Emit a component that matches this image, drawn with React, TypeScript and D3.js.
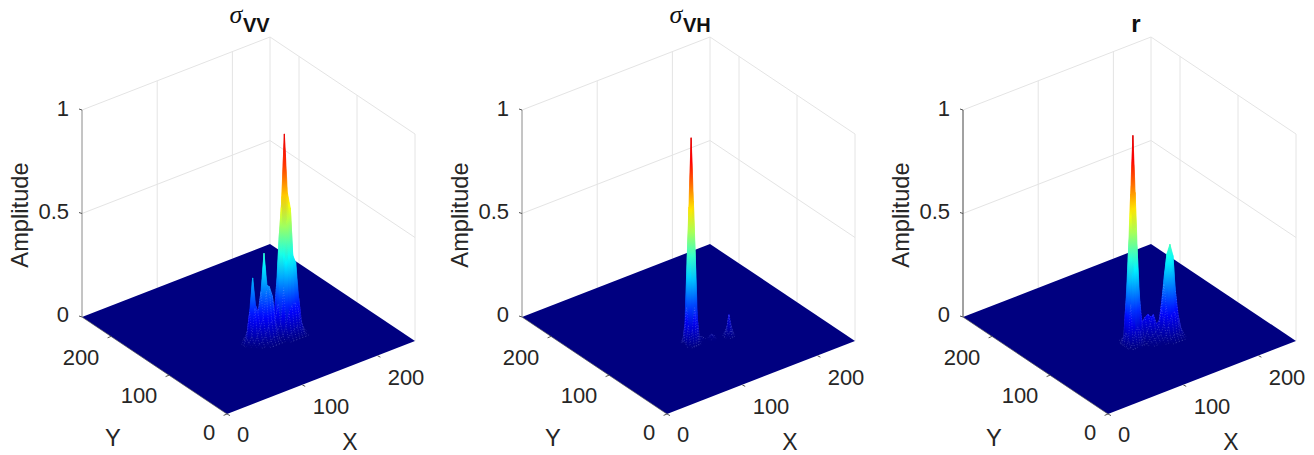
import * as d3 from 'd3';

const WIDTH = 1314;
const HEIGHT = 455;

const xTicks = [0, 100, 200];
const yTicks = [0, 100, 200];
const zTicks = [0, 0.5, 1];
const axisMax = 250;

// amplitude x 100. rows go with *Ys, columns with *Xs
const vvXs = [100, 104, 108, 112, 116, 120, 124, 128, 132, 136, 140, 144, 148, 152, 156, 160, 164, 168, 172];
const vvYs = [77, 81, 85, 89, 93, 97, 101, 105, 109, 113];
const vvZ = [
  [0, 0, 0, 0, 0, 0, 0, 0, 0, 0, 0, 0, 0, 0, 0, 0, 0, 0, 0],
  [0, 0, 0, 0, 0, 0, 0, 0, 0, 0, 0, 1, 3, 4, 5, 4, 2, 0, 0],
  [0, 0, 0, 0, 0, 1, 2, 3, 3, 1, 2, 6, 12, 15, 16, 13, 6, 1, 0],
  [0, 0, 0, 1, 2, 4, 8, 10, 10, 4, 7, 24, 56, 46, 38, 34, 16, 3, 0],
  [0, 0, 1, 4, 8, 12, 24, 26, 21, 9, 16, 62, 97, 68, 60, 31, 11, 2, 0],
  [0, 1, 4, 17, 14, 24, 42, 26, 14, 6, 9, 46, 66, 46, 34, 16, 5, 1, 0],
  [0, 3, 15, 31, 17, 13, 22, 12, 6, 2, 4, 24, 36, 26, 14, 6, 2, 0, 0],
  [0, 1, 5, 15, 7, 4, 7, 3, 1, 0, 1, 8, 12, 9, 5, 1, 0, 0, 0],
  [0, 0, 0, 2, 1, 0, 1, 0, 0, 0, 0, 1, 2, 1, 0, 0, 0, 0, 0],
  [0, 0, 0, 0, 0, 0, 0, 0, 0, 0, 0, 0, 0, 0, 0, 0, 0, 0, 0],
];

const vhXs = [101, 104, 107, 110, 113, 116, 119, 127, 130, 133, 136, 139, 145, 148, 151, 154, 157];
const vhYs = [83, 86, 89, 92, 95, 98, 101, 104, 107, 110, 113];
const vhZ = [
  [0, 0, 0, 0, 0, 0, 0, 0, 0, 0, 0, 0, 0, 0, 0, 0, 0],
  [0, 0, 0, 0, 0, 0, 0, 0, 0, 0, 0, 0, 0, 1, 3, 1, 0],
  [0, 0, 0, 0, 0, 0, 0, 0, 0, 0, 0, 0, 0, 3, 10, 4, 0],
  [0, 0, 0, 0, 0, 0, 0, 0, 0, 1, 0, 0, 0, 1, 4, 2, 0],
  [0, 1, 8, 18, 9, 1, 0, 0, 1, 2, 1, 0, 0, 0, 1, 0, 0],
  [1, 10, 42, 66, 44, 11, 1, 0, 0, 1, 0, 0, 0, 0, 0, 0, 0],
  [2, 18, 66, 99, 68, 20, 2, 0, 0, 0, 0, 0, 0, 0, 0, 0, 0],
  [1, 9, 40, 64, 42, 10, 1, 0, 0, 0, 0, 0, 0, 0, 0, 0, 0],
  [0, 1, 8, 18, 9, 1, 0, 0, 0, 0, 0, 0, 0, 0, 0, 0, 0],
  [0, 0, 1, 3, 1, 0, 0, 0, 0, 0, 0, 0, 0, 0, 0, 0, 0],
  [0, 0, 0, 0, 0, 0, 0, 0, 0, 0, 0, 0, 0, 0, 0, 0, 0],
];

const rXs = [99, 102, 105, 108, 111, 114, 117, 120, 124, 128, 132, 136, 140, 143, 147, 151, 155, 159, 163];
const rYs = [73, 77, 81, 85, 89, 93, 97, 101, 105, 109, 113, 117];
const rZ = [
  [0, 0, 0, 0, 0, 0, 0, 0, 0, 0, 0, 0, 0, 0, 0, 0, 0, 0, 0],
  [0, 0, 0, 0, 0, 0, 0, 0, 0, 0, 0, 0, 0, 1, 3, 3, 2, 1, 0],
  [0, 0, 0, 0, 0, 0, 0, 0, 0, 0, 1, 1, 3, 7, 12, 13, 9, 4, 1],
  [0, 0, 0, 0, 0, 0, 0, 0, 1, 2, 3, 3, 8, 16, 30, 32, 22, 9, 2],
  [0, 0, 0, 0, 1, 0, 0, 0, 2, 3, 4, 6, 14, 26, 40, 44, 38, 14, 4],
  [0, 0, 2, 7, 9, 7, 2, 1, 5, 8, 12, 7, 8, 16, 30, 32, 22, 9, 2],
  [0, 3, 20, 42, 56, 42, 20, 9, 11, 12, 10, 4, 3, 7, 12, 13, 9, 4, 1],
  [0, 6, 30, 72, 100, 72, 30, 12, 8, 6, 4, 1, 1, 1, 3, 3, 2, 1, 0],
  [0, 3, 20, 42, 56, 42, 20, 3, 2, 1, 0, 0, 0, 0, 0, 0, 0, 0, 0],
  [0, 0, 2, 7, 9, 7, 2, 0, 0, 0, 0, 0, 0, 0, 0, 0, 0, 0, 0],
  [0, 0, 0, 1, 1, 1, 0, 0, 0, 0, 0, 0, 0, 0, 0, 0, 0, 0, 0],
  [0, 0, 0, 0, 0, 0, 0, 0, 0, 0, 0, 0, 0, 0, 0, 0, 0, 0, 0],
];

const panels = [
  { id: 'vv', offset: 0, xs: vvXs, ys: vvYs, z: vvZ, sigma: true, title: 'VV', axisColor: '#8a8a8a' },
  { id: 'vh', offset: 440, xs: vhXs, ys: vhYs, z: vhZ, sigma: true, title: 'VH', axisColor: '#8a8a8a' },
  { id: 'r', offset: 881, xs: rXs, ys: rYs, z: rZ, sigma: false, title: 'r', axisColor: '#444444' },
];

// oblique projection of the MATLAB view, corner (0,0,0) sits at origin
const origin = { sx: 227, sy: 414 };
const xToSx = d3.scaleLinear().domain([0, axisMax]).range([0, 188]);
const xToSy = d3.scaleLinear().domain([0, axisMax]).range([0, -73]);
const yToSx = d3.scaleLinear().domain([0, axisMax]).range([0, -145]);
const yToSy = d3.scaleLinear().domain([0, axisMax]).range([0, -97]);
const zToSy = d3.scaleLinear().domain([0, 1]).range([0, -207]);

const project = (x: number, y: number, z: number): [number, number] => [
  origin.sx + xToSx(x) + yToSx(y),
  origin.sy + xToSy(x) + yToSy(y) + zToSy(z),
];

const jet = d3
  .scaleLinear<string>()
  .domain([0, 0.125, 0.375, 0.625, 0.875, 1])
  .range(['#000080', '#0000ff', '#00ffff', '#ffff00', '#ff0000', '#e00000'])
  .interpolate(d3.interpolateRgb);

const line = d3.line();
const closed = (pts: [number, number][]) => line(pts) + 'Z';

function buildCells(p: (typeof panels)[number]) {
  const cells: any[] = [];
  for (let j = 0; j < p.ys.length - 1; j++) {
    for (let i = 0; i < p.xs.length - 1; i++) {
      const corners = [
        [p.xs[i], p.ys[j], p.z[j][i] / 100],
        [p.xs[i + 1], p.ys[j], p.z[j][i + 1] / 100],
        [p.xs[i + 1], p.ys[j + 1], p.z[j + 1][i + 1] / 100],
        [p.xs[i], p.ys[j + 1], p.z[j + 1][i] / 100],
      ];
      const zs = corners.map((c) => c[2]);
      const zMax = d3.max(zs) as number;
      if (zMax <= 0) continue;
      const zMin = d3.min(zs) as number;
      const lo = corners[zs.indexOf(zMin)];
      const hi = corners[zs.indexOf(zMax)];
      cells.push({
        key: `${p.id}-${i}-${j}`,
        d: closed(corners.map((c) => project(c[0], c[1], c[2]))),
        from: project(lo[0], lo[1], lo[2]),
        to: project(hi[0], hi[1], hi[2]),
        zMin,
        zMax,
        depth: project((p.xs[i] + p.xs[i + 1]) / 2, (p.ys[j] + p.ys[j + 1]) / 2, 0)[1],
      });
    }
  }
  return cells.sort((a, b) => a.depth - b.depth);
}

const textColor = '#262626';
const gridColor = '#e4e4e4';
const sans = "'Liberation Sans', Arial, sans-serif";

function Panel({ p }: { p: (typeof panels)[number] }) {
  const cells = buildCells(p);
  const stops = d3.range(0, 1.01, 0.2);
  const corner = (x: number, y: number, z: number) => project(x, y, z);
  const wall = (z: number) =>
    line([corner(0, axisMax, z), corner(axisMax, axisMax, z), corner(axisMax, 0, z)]) as string;
  return (
    <g transform={`translate(${p.offset},0)`}>
      <defs>
        {cells.map((c) => (
          <linearGradient
            key={c.key}
            id={`g-${c.key}`}
            gradientUnits="userSpaceOnUse"
            x1={c.from[0]}
            y1={c.from[1]}
            x2={c.to[0]}
            y2={c.to[1] + 0.01}
          >
            {stops.map((t) => (
              <stop key={t} offset={t} stopColor={jet(c.zMin + t * (c.zMax - c.zMin))} />
            ))}
          </linearGradient>
        ))}
      </defs>

      {/* back walls */}
      <g fill="none" stroke={gridColor} strokeWidth={1}>
        {zTicks.slice(1).map((z) => (
          <path key={z} d={wall(z)} />
        ))}
        {xTicks.slice(1).map((x) => (
          <path key={x} d={line([corner(x, axisMax, 0), corner(x, axisMax, 1)]) as string} />
        ))}
        {yTicks.slice(1).map((y) => (
          <path key={y} d={line([corner(axisMax, y, 0), corner(axisMax, y, 1)]) as string} />
        ))}
        <path d={line([corner(axisMax, 0, 0), corner(axisMax, 0, 1)]) as string} />
        <path d={line([corner(axisMax, axisMax, 0), corner(axisMax, axisMax, 1)]) as string} />
      </g>

      {/* z axis */}
      <path d={line([corner(0, axisMax, 0), corner(0, axisMax, 1)]) as string} stroke={p.axisColor} fill="none" />
      {zTicks.map((z) => {
        const [sx, sy] = corner(0, axisMax, z);
        return <path key={z} d={`M${sx},${sy}l-3,-1`} stroke="#555" fill="none" />;
      })}

      {/* floor */}
      <path
        d={closed([corner(0, 0, 0), corner(axisMax, 0, 0), corner(axisMax, axisMax, 0), corner(0, axisMax, 0)])}
        fill="#000080"
      />
      <path d={line([corner(0, axisMax, 0), corner(0, 0, 0)]) as string} stroke="#555" strokeWidth={0.7} fill="none" />
      {xTicks.map((x) => {
        const [sx, sy] = corner(x, 0, 0);
        return <path key={x} d={`M${sx},${sy}l3,1.6`} stroke="#555" fill="none" />;
      })}
      {yTicks.map((y) => {
        const [sx, sy] = corner(0, y, 0);
        return <path key={y} d={`M${sx},${sy}l-3.4,1.4`} stroke="#555" fill="none" />;
      })}

      {/* surface, back to front */}
      {cells.map((c) => (
        <g key={c.key}>
          <path d={c.d} fill={`url(#g-${c.key})`} stroke={`url(#g-${c.key})`} strokeWidth={0.4} />
          {c.zMax >= 0.02 && c.zMax < 0.3 && (
            <path
              d={c.d}
              fill="none"
              stroke="#c4d2ff"
              strokeOpacity={0.5}
              strokeWidth={0.5}
              strokeDasharray="0.8 1.9"
            />
          )}
        </g>
      ))}

      {/* tick labels */}
      <g fontFamily={sans} fontSize={22} fill={textColor}>
        <text x={69} y={108} textAnchor="end" dominantBaseline="central">1</text>
        <text x={69} y={211} textAnchor="end" dominantBaseline="central">0.5</text>
        <text x={69} y={314} textAnchor="end" dominantBaseline="central">0</text>
        <text x={81} y={357} textAnchor="middle" dominantBaseline="central">200</text>
        <text x={139} y={395} textAnchor="middle" dominantBaseline="central">100</text>
        <text x={209} y={432} textAnchor="middle" dominantBaseline="central">0</text>
        <text x={243} y={434} textAnchor="middle" dominantBaseline="central">0</text>
        <text x={331} y={406} textAnchor="middle" dominantBaseline="central">100</text>
        <text x={406} y={377} textAnchor="middle" dominantBaseline="central">200</text>
      </g>

      {/* axis labels */}
      <g fontFamily={sans} fontSize={23.7} fill={textColor}>
        <text x={113} y={446} textAnchor="middle">Y</text>
        <text x={350} y={450} textAnchor="middle" fontSize={23}>X</text>
        <text
          transform="translate(20,215) rotate(-90)"
          textAnchor="middle"
          dominantBaseline="central"
        >
          Amplitude
        </text>
      </g>

      {/* title */}
      {p.sigma ? (
        <g>
          <text x={236} y={14} textAnchor="middle" dominantBaseline="central" fontFamily="'Liberation Serif', serif" fontStyle="italic" fontSize={26} fill="#111">
            σ
          </text>
          <text x={243} y={25} dominantBaseline="central" fontFamily={sans} fontWeight="bold" fontSize={20} fill="#111">
            {p.title}
          </text>
        </g>
      ) : (
        <text x={255} y={23} textAnchor="middle" dominantBaseline="central" fontFamily={sans} fontWeight="bold" fontSize={24} fill="#111">
          {p.title}
        </text>
      )}
    </g>
  );
}

export default function App() {
  return (
    <svg
      width={WIDTH}
      height={HEIGHT}
      viewBox={`0 0 ${WIDTH} ${HEIGHT}`}
      style={{ position: 'absolute', left: 0, top: 0, background: '#fff' }}
    >
      {panels.map((p) => (
        <Panel key={p.id} p={p} />
      ))}
    </svg>
  );
}
